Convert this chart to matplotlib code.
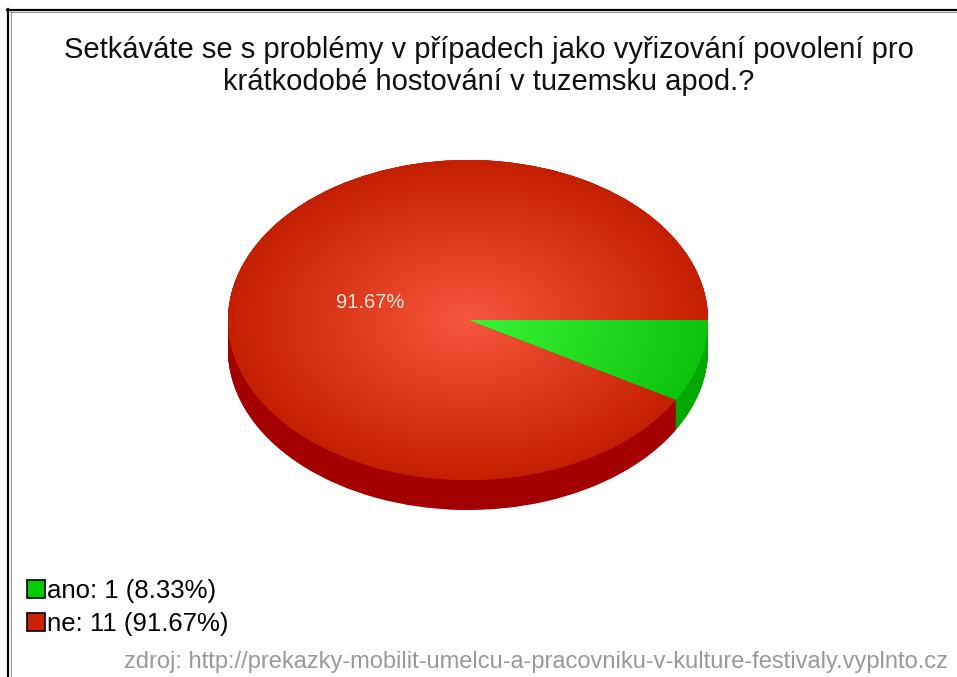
import numpy as np
import matplotlib
matplotlib.use("Agg")
import matplotlib.pyplot as plt
from matplotlib.patches import Rectangle
from matplotlib.lines import Line2D
from matplotlib.colors import to_rgb

# Survey answers
title = ("Setkáváte se s problémy v případech jako vyřizování povolení pro\n"
         "krátkodobé hostování v tuzemsku apod.?")
categories = ["ano", "ne"]
counts = [1, 11]
source = "zdroj: http://prekazky-mobilit-umelcu-a-pracovniku-v-kulture-festivaly.vyplnto.cz"

top_light = ["#3af53a", "#f7573b"]
top_dark = ["#0cc40c", "#c41f00"]
side_colors = ["#00a800", "#a50000"]
legend_colors = ["#00cc00", "#cc2200"]

W, H = 957, 677
plt.rcParams["font.family"] = ["Liberation Sans", "DejaVu Sans"]
fig = plt.figure(figsize=(W / 100, H / 100), dpi=100)
fig.patch.set_facecolor("white")


def fx(x):
    return x / W


def fy(y):
    return 1 - y / H


# pie geometry (pixels): centre, radii, thickness
cx, cy, rx, ry, depth_px = 468, 320, 240, 160, 30
xl, yl_lo, yl_hi = 1.05, -1.3, 1.05
ax = fig.add_axes([fx(cx - rx * xl), fy(cy - ry * yl_lo), rx * 2 * xl / W, ry * (yl_hi - yl_lo) / H])
depth = depth_px / ry

# side wall: stacked copies of the pie, from the bottom up
for dy in np.linspace(depth, 0.0, 60):
    ax.pie(counts, colors=side_colors, startangle=0, counterclock=False,
           center=(0, -dy), radius=1, wedgeprops=dict(linewidth=0))

# top surface
total = sum(counts)
wedges, _, autotexts = ax.pie(
    counts, colors=top_dark, startangle=0, counterclock=False, radius=1,
    center=(0, 0), wedgeprops=dict(linewidth=0),
    autopct=lambda p: f"{p:.2f}%" if p > 50 else "", pctdistance=0.42,
    textprops=dict(color="#ffe8dc", fontsize=14.5))

# radial shading on each slice
n = 400
gx, gy = np.meshgrid(np.linspace(-1, 1, n), np.linspace(1, -1, n))
r = np.clip(np.hypot(gx, gy), 0, 1)[..., None]
for w, c0, c1 in zip(wedges, top_light, top_dark):
    a, b = np.array(to_rgb(c0)), np.array(to_rgb(c1))
    img = a * (1 - r) + b * r
    im = ax.imshow(img, extent=(-1, 1, -1, 1), aspect="auto", zorder=w.get_zorder() + 0.5,
                   interpolation="bilinear")
    im.set_clip_path(w)
for t in autotexts:
    t.set_zorder(10)

ax.set_aspect("auto")
ax.set_xlim(-xl, xl)
ax.set_ylim(yl_lo, yl_hi)
ax.axis("off")

# title
fig.text(fx(488.5), fy(66), title, ha="center", va="center", fontsize=21,
         linespacing=1.15, color="#111111")

# legend
handles = [Rectangle((0, 0), 1, 1, facecolor=c, edgecolor="black", linewidth=1.2)
           for c in legend_colors]
labels = [f"{c}: {v} ({v / total * 100:.2f}%)" for c, v in zip(categories, counts)]
fig.legend(handles, labels, loc="upper left", bbox_to_anchor=(fx(27), fy(579)),
           frameon=False, fontsize=18.5, handlelength=0.7, handleheight=0.7,
           handletextpad=0.06, labelspacing=0.36, borderaxespad=0, borderpad=0)

# source note
fig.text(fx(948), fy(662), source, ha="right", va="center", fontsize=17, color="#999999")

# frame edges
fig.add_artist(Line2D([fx(7), fx(W)], [fy(9.5), fy(9.5)], color="black", lw=1.6))
fig.add_artist(Line2D([fx(8), fx(8)], [fy(9), fy(H)], color="black", lw=1.6))
fig.add_artist(Line2D([fx(10), fx(W)], [fy(11.5), fy(11.5)], color="#999999", lw=0.8))
fig.add_artist(Line2D([fx(10.5), fx(10.5)], [fy(11), fy(H)], color="#999999", lw=0.8))

fig.savefig("out.png", dpi=100)
